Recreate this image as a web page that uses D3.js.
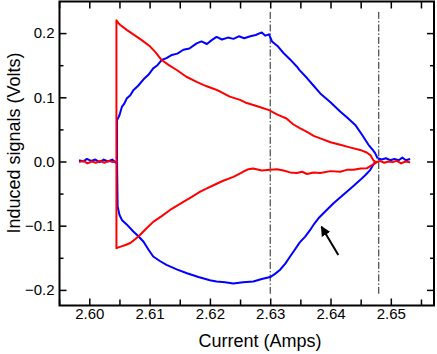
<!DOCTYPE html>
<html>
<head>
<meta charset="utf-8">
<script src="https://cdn.jsdelivr.net/npm/d3@7"></script>
<style>
    body { margin: 0; background: #fff; }
    svg text { font-family: "Liberation Sans", Arial, Helvetica, sans-serif; fill: #000; }
    .axis path { display: none; }
    .axis line { stroke: #000; stroke-width: 1.5; }
    .axis text { font-size: 15px; }
</style>
</head>
<body>
<div id="chart"></div>
<script>
// Blue trace as [current, volts]
var blueLeft = [[2.5983, 0.002], [2.5990, 0.000], [2.5996, 0.004], [2.6003, 0.001], [2.6010, 0.003],
    [2.6017, -0.001], [2.6024, 0.003], [2.6031, 0.000], [2.6038, 0.003], [2.6044, -0.002], [2.6046, 0.000]];
var blueUpper = [[2.6046, 0.000], [2.6046, 0.064], [2.6050, 0.072], [2.6054, 0.085], [2.6058, 0.090],
    [2.6062, 0.098], [2.6068, 0.103], [2.6073, 0.111], [2.6081, 0.118], [2.6090, 0.128], [2.6098, 0.135],
    [2.6106, 0.145], [2.6113, 0.150], [2.6120, 0.158], [2.6128, 0.161], [2.6137, 0.166], [2.6146, 0.168],
    [2.6156, 0.174], [2.6166, 0.176], [2.6178, 0.184], [2.6186, 0.187], [2.6195, 0.183], [2.6203, 0.189],
    [2.6211, 0.194], [2.6220, 0.190], [2.6230, 0.193], [2.6239, 0.191], [2.6248, 0.195], [2.6257, 0.192],
    [2.6267, 0.195], [2.6276, 0.197], [2.6286, 0.201], [2.6292, 0.196], [2.6298, 0.198], [2.6303, 0.187],
    [2.6312, 0.180], [2.6322, 0.169], [2.6333, 0.159], [2.6344, 0.148], [2.6349, 0.142], [2.6361, 0.130],
    [2.6372, 0.118], [2.6383, 0.106], [2.6399, 0.093], [2.6416, 0.078], [2.6428, 0.068], [2.6441, 0.057],
    [2.6452, 0.042], [2.6463, 0.026], [2.6470, 0.018], [2.6474, 0.013], [2.6478, 0.005]];
var blueRight = [[2.6478, 0.005], [2.6485, 0.003], [2.6492, 0.005], [2.6499, 0.002], [2.6506, 0.004],
    [2.6513, 0.002], [2.6519, 0.006], [2.6525, 0.002], [2.6532, 0.004]];
var blueLower = [[2.6046, 0.000], [2.6047, -0.070], [2.6050, -0.083], [2.6054, -0.091], [2.6062, -0.098],
    [2.6073, -0.109], [2.6081, -0.116], [2.6090, -0.125], [2.6098, -0.137], [2.6106, -0.148],
    [2.6117, -0.155], [2.6128, -0.161], [2.6145, -0.168], [2.6162, -0.174], [2.6181, -0.180],
    [2.6200, -0.185], [2.6211, -0.187], [2.6225, -0.188], [2.6239, -0.190], [2.6255, -0.188],
    [2.6272, -0.187], [2.6286, -0.183], [2.6300, -0.180], [2.6308, -0.175], [2.6316, -0.169],
    [2.6325, -0.159], [2.6333, -0.148], [2.6341, -0.137], [2.6349, -0.126], [2.6358, -0.117],
    [2.6366, -0.107], [2.6373, -0.097], [2.6380, -0.0885], [2.6392, -0.077], [2.6405, -0.065],
    [2.6416, -0.056], [2.6427, -0.047], [2.6438, -0.038], [2.6449, -0.029], [2.6458, -0.021],
    [2.6466, -0.013], [2.6474, 0.000]];

// Red trace
var redLeft = [[2.5983, -0.001], [2.5990, 0.001], [2.5997, -0.003], [2.6004, 0.000], [2.6011, -0.002],
    [2.6018, 0.001], [2.6025, -0.002], [2.6032, 0.001], [2.6039, -0.001], [2.6045, 0.000]];
var redUpper = [[2.6045, 0.000], [2.6045, 0.220], [2.6048, 0.216], [2.6051, 0.213], [2.6062, 0.205],
    [2.6073, 0.198], [2.6087, 0.189], [2.6101, 0.179], [2.6110, 0.170], [2.6120, 0.158], [2.6132, 0.150],
    [2.6145, 0.1425], [2.6161, 0.132], [2.6178, 0.124], [2.6190, 0.119], [2.6197, 0.1165], [2.6207, 0.113],
    [2.6217, 0.109], [2.6233, 0.101], [2.6250, 0.096], [2.6261, 0.091], [2.6272, 0.088], [2.6285, 0.084],
    [2.6298, 0.080], [2.6312, 0.073], [2.6327, 0.067], [2.6338, 0.058], [2.6349, 0.052], [2.6361, 0.046],
    [2.6372, 0.040], [2.6383, 0.036], [2.6400, 0.030], [2.6416, 0.026], [2.6432, 0.022], [2.6449, 0.018],
    [2.6460, 0.014], [2.6466, 0.010], [2.6471, 0.002], [2.6475, -0.001]];
var redRight = [[2.6475, -0.001], [2.6482, 0.001], [2.6489, -0.002], [2.6496, 0.000], [2.6503, -0.001],
    [2.6510, 0.001], [2.6517, -0.003], [2.6524, 0.000], [2.6532, -0.001]];
var redLower = [[2.6045, 0.000], [2.6045, -0.135], [2.6051, -0.133], [2.6060, -0.130], [2.6068, -0.127],
    [2.6076, -0.121], [2.6084, -0.1145], [2.6095, -0.104], [2.6106, -0.094], [2.6120, -0.085],
    [2.6134, -0.0755], [2.6145, -0.069], [2.6156, -0.063], [2.6170, -0.055], [2.6184, -0.047],
    [2.6195, -0.042], [2.6206, -0.037], [2.6222, -0.030], [2.6239, -0.024], [2.6255, -0.016],
    [2.6264, -0.012], [2.6272, -0.011], [2.6286, -0.014], [2.6300, -0.013], [2.6311, -0.012],
    [2.6322, -0.014], [2.6333, -0.017], [2.6344, -0.018], [2.6353, -0.016], [2.6361, -0.0195],
    [2.6372, -0.017], [2.6383, -0.018], [2.6400, -0.015], [2.6416, -0.016], [2.6427, -0.013],
    [2.6438, -0.013], [2.6450, -0.011], [2.6460, -0.0106], [2.6468, -0.006], [2.6474, -0.003], [2.6478, 0.000]];

// Marker lines, arrow and ticks
var markerCurrents = [2.630, 2.648];
var markerSpan = [-0.206, 0.233];
var arrowFrom = [2.6413, -0.1456];
var arrowTo = [2.6385, -0.1016];
var xMajorTicks = [2.60, 2.61, 2.62, 2.63, 2.64, 2.65];
var xMinorTicks = [2.595, 2.605, 2.615, 2.625, 2.635, 2.645, 2.655];
var yMajorTicks = [-0.2, -0.1, 0.0, 0.1, 0.2];
var yMinorTicks = [-0.15, -0.05, 0.05, 0.15];

var margin = {top: 1.5, right: 3, bottom: 48.5, left: 59.5};
var width = 437 - margin.left - margin.right;
var height = 354 - margin.top - margin.bottom;

var svg = d3.select("#chart")
    .append("svg")
    .attr("width", 437)
    .attr("height", 354);

var g = svg.append("g")
    .attr("transform", "translate(" + margin.left + "," + margin.top + ")");

var x = d3.scaleLinear().domain([2.59506, 2.65716]).range([0, width]);
var y = d3.scaleLinear().domain([-0.2243, 0.2492]).range([height, 0]);

// Axes: ticks point inwards on all four sides
g.append("g").attr("class", "axis")
    .attr("transform", "translate(0," + height + ")")
    .call(d3.axisBottom(x).tickValues(xMajorTicks).tickSize(-7).tickPadding(3).tickFormat(d3.format(".2f")));
g.append("g").attr("class", "axis")
    .attr("transform", "translate(0," + height + ")")
    .call(d3.axisBottom(x).tickValues(xMinorTicks).tickSize(-6).tickFormat(""));
g.append("g").attr("class", "axis")
    .call(d3.axisTop(x).tickValues(xMajorTicks.concat(xMinorTicks)).tickSize(-7).tickFormat(""));

g.append("g").attr("class", "axis")
    .call(d3.axisLeft(y).tickValues(yMajorTicks).tickSize(-7).tickPadding(5).tickFormat(d3.format(".1f")));
g.append("g").attr("class", "axis")
    .call(d3.axisLeft(y).tickValues(yMinorTicks).tickSize(-4).tickFormat(""));
g.append("g").attr("class", "axis")
    .attr("transform", "translate(" + width + ",0)")
    .call(d3.axisRight(y).tickValues(yMajorTicks).tickSize(-7).tickFormat(""));
g.append("g").attr("class", "axis")
    .attr("transform", "translate(" + width + ",0)")
    .call(d3.axisRight(y).tickValues(yMinorTicks).tickSize(-4).tickFormat(""));

// Dash-dot marker lines
markerCurrents.forEach(function (c) {
    g.append("line")
        .attr("x1", x(c)).attr("x2", x(c))
        .attr("y1", y(markerSpan[1])).attr("y2", y(markerSpan[0]))
        .style("stroke", "#222")
        .style("stroke-width", 1)
        .style("stroke-dasharray", "7,2,1.5,2");
});

var line = d3.line()
    .x(function (d) { return x(d[0]); })
    .y(function (d) { return y(d[1]); });

// Blue first, red drawn over it
[blueLeft, blueUpper, blueLower, blueRight].forEach(function (s) {
    g.append("path").datum(s)
        .attr("d", line)
        .style("fill", "none")
        .style("stroke", "#0000ff")
        .style("stroke-width", 2)
        .style("stroke-linejoin", "round");
});
[redLeft, redUpper, redLower, redRight].forEach(function (s) {
    g.append("path").datum(s)
        .attr("d", line)
        .style("fill", "none")
        .style("stroke", "#ff0000")
        .style("stroke-width", 2)
        .style("stroke-linejoin", "round");
});

// Arrow pointing at the kink
svg.append("defs").append("marker")
    .attr("id", "head")
    .attr("viewBox", "0 0 10 10")
    .attr("refX", 9).attr("refY", 5)
    .attr("markerWidth", 5).attr("markerHeight", 5)
    .attr("orient", "auto")
    .append("path")
    .attr("d", "M0,0L10,5L0,10z")
    .style("fill", "#000");
g.append("line")
    .attr("x1", x(arrowFrom[0])).attr("y1", y(arrowFrom[1]))
    .attr("x2", x(arrowTo[0])).attr("y2", y(arrowTo[1]))
    .style("stroke", "#000")
    .style("stroke-width", 2)
    .attr("marker-end", "url(#head)");

// Frame
g.append("rect")
    .attr("width", width).attr("height", height)
    .style("fill", "none")
    .style("stroke", "#000")
    .style("stroke-width", 2);

// Axis titles
svg.append("text")
    .attr("x", 260).attr("y", 347)
    .attr("text-anchor", "middle")
    .style("font-size", "18px")
    .text("Current (Amps)");
svg.append("text")
    .attr("transform", "translate(20,143)rotate(-90)")
    .attr("text-anchor", "middle")
    .style("font-size", "18px")
    .text("Induced signals (Volts)");
</script>
</body>
</html>
